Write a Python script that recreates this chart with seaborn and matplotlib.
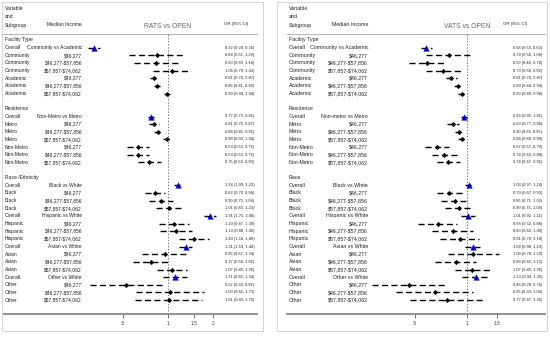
import matplotlib
matplotlib.use("Agg")
import numpy as np
import pandas as pd
import matplotlib.pyplot as plt
import matplotlib.transforms as mtransforms
from matplotlib.patches import Rectangle
import seaborn as sns

# ---- data ----
sections_rats = ["Facility Type", "Residence", "Race /Ethnicity"]
sections_vats = ["Facility Type", "Residence", "Race"]
section_sizes = [7, 7, 16]

subgroup = ["Overall", "Community", "Community", "Community", "Academic", "Academic", "Academic",
            "Overall", "Metro", "Metro", "Metro", "Non-Metro", "Non-Metro", "Non-Metro",
            "Overall", "Black", "Black", "Black",
            "Overall", "Hispanic", "Hispanic", "Hispanic",
            "Overall", "Asian", "Asian", "Asian",
            "Overall", "Other", "Other", "Other"]
income_bands = ["$46,277", "$46,277-$57,856", "$57,857-$74,062"]
comparisons_rats = ["Community vs Academic", "Non-Metro vs Metro", "Black vs White",
                    "Hispanic vs White", "Asian vs White", "Other vs White"]
comparisons_vats = ["Community vs Academic", "Non-metro vs Metro", "Black vs White",
                    "Hispanic vs White", "Asian vs White", "Other vs White"]

rats_or = [0.32, 0.84, 0.83, 1.06, 0.81, 0.85, 0.99,
           0.77, 0.81, 0.86, 0.98, 0.63, 0.63, 0.75,
           1.16, 0.82, 0.90, 1.01, 1.91, 1.10, 1.13, 1.49,
           1.31, 0.95, 0.77, 1.07, 1.11, 0.52, 1.03, 1.01]
rats_lo = [0.29, 0.55, 0.59, 0.79, 0.76, 0.81, 0.94,
           0.73, 0.75, 0.81, 0.93, 0.53, 0.53, 0.63,
           1.09, 0.70, 0.75, 0.83, 1.75, 0.87, 0.88, 1.18,
           1.19, 0.67, 0.58, 0.85, 0.92, 0.30, 0.61, 0.60]
rats_hi = [0.35, 1.29, 1.16, 1.43, 0.87, 0.90, 1.04,
           0.81, 0.87, 0.91, 1.04, 0.75, 0.75, 0.90,
           1.23, 0.96, 1.08, 1.23, 2.08, 1.39, 1.45, 1.88,
           1.44, 1.34, 1.02, 1.35, 1.34, 0.91, 1.73, 1.70]

vats_or = [0.58, 0.79, 0.59, 0.73, 0.81, 0.89, 0.93,
           0.96, 0.83, 0.90, 0.94, 0.67, 0.74, 0.78,
           1.03, 0.79, 0.85, 0.90, 1.01, 0.68, 0.83, 0.91,
           1.08, 1.09, 0.86, 1.07, 1.13, 0.46, 0.65, 0.77]
vats_lo = [0.54, 0.58, 0.46, 0.58, 0.76, 0.84, 0.89,
           0.92, 0.77, 0.85, 0.89, 0.57, 0.63, 0.67,
           0.97, 0.67, 0.71, 0.75, 0.92, 0.52, 0.63, 0.70,
           0.98, 0.78, 0.65, 0.85, 0.94, 0.28, 0.39, 0.47]
vats_hi = [0.63, 1.08, 0.76, 0.92, 0.87, 0.94, 0.98,
           1.01, 0.90, 0.95, 0.99, 0.79, 0.88, 0.91,
           1.10, 0.93, 1.02, 1.08, 1.11, 0.88, 1.09, 1.18,
           1.19, 1.53, 1.13, 1.35, 1.35, 0.76, 1.09, 1.26]

W, H = 550, 338
ROW0, ROWH = 40.0, 7.65   # pixel y of first row, pixel step


def build_rows(sections, comparisons, est, lo, hi):
    heads, recs = [], []
    r, k, c, band = 0, 0, 0, 0
    for name, n in zip(sections, section_sizes):
        heads.append((r, name))
        r += 1
        for _ in range(n):
            if subgroup[k] == "Overall":
                inc = comparisons[c]
                c += 1
            else:
                inc = income_bands[band % 3]
                band += 1
            recs.append(dict(y=r, var=subgroup[k], inc=inc, est=est[k], lo=lo[k], hi=hi[k],
                             overall=subgroup[k] == "Overall"))
            r += 1
            k += 1
        r += 1
    return heads, pd.DataFrame(recs)


def px_axes(fig, x0, x1, y0, y1):
    return fig.add_axes([x0 / W, 1 - y1 / H, (x1 - x0) / W, (y1 - y0) / H])


def yrow(py):
    return (py - ROW0) / ROWH


def draw_panel(ax, title, sections, comparisons, est, lo, hi, xlim, ticks, ticklabels,
               col_var, col_inc, col_or, col_orhead, fs_row):
    heads, df = build_rows(sections, comparisons, est, lo, hi)
    ax.set_xscale("log")
    ax.set_xlim(*xlim)
    ax.set_ylim(yrow(314), yrow(34))
    ax.axvline(1, color="#777777", ls=(0, (1, 1.2)), lw=0.7, zorder=1)
    ax.hlines(df["y"], df["lo"], df["hi"], colors="black", linestyles=(0, (4.4, 2.4)),
              lw=1.0, zorder=2)
    sns.scatterplot(data=df[~df.overall], x="est", y="y", marker="D", s=5, color="black",
                    edgecolor="black", linewidth=0.4, ax=ax, zorder=3)
    sns.scatterplot(data=df[df.overall], x="est", y="y", marker="^", s=16, color="#0000ee",
                    edgecolor="#0000ee", linewidth=0.3, ax=ax, zorder=4)
    ax.set_xlabel("")
    ax.set_ylabel("")
    ax.set_yticks([])
    ax.xaxis.set_major_locator(matplotlib.ticker.FixedLocator(ticks))
    ax.xaxis.set_minor_locator(matplotlib.ticker.NullLocator())
    ax.set_xticklabels(ticklabels)
    ax.tick_params(axis="x", direction="out", length=3, width=0.6, color="#555555",
                   labelsize=3.4, labelcolor="#333333", pad=2, bottom=True)
    for s in ("left", "right"):
        ax.spines[s].set_visible(False)
    ax.spines["top"].set_color("#aaaaaa")
    ax.spines["top"].set_linewidth(0.6)
    ax.spines["bottom"].set_color("#8a8a8a")
    ax.spines["bottom"].set_linewidth(1.3)

    tr = mtransforms.blended_transform_factory(ax.transAxes, ax.transData)
    kw = dict(transform=tr, va="center", fontsize=fs_row, color="#222222",
              parse_math=False, clip_on=False)
    for y, name in heads:
        ax.text(col_var, y, name, ha="left", **kw)
    for _, row in df.iterrows():
        ax.text(col_var, row.y, row["var"], ha="left", **kw)
        ax.text(col_inc, row.y, row.inc, ha="right", **kw)
        ax.text(col_or, row.y, f"{row.est:.2f} ({row.lo:.2f}, {row.hi:.2f})", ha="left",
                **{**kw, "fontsize": 2.9})
    ax.text(col_var, yrow(9), "Variable", ha="left", **kw)
    ax.text(col_var, yrow(17), "and", ha="left", **kw)
    ax.text(col_var, yrow(25), "Subgroup", ha="left", **kw)
    ax.text(col_inc, yrow(25), "Median Income", ha="right", **kw)
    ax.text(col_orhead, yrow(24), "OR (95% CI)", ha="left", **{**kw, "fontsize": 3.1})
    ax.text(1, yrow(27), title, transform=ax.transData, ha="center", va="center",
            fontsize=4.9, color="#666666", clip_on=False)


sns.set_theme(style="white")
plt.rcParams["font.family"] = ["Liberation Sans", "DejaVu Sans"]
plt.rcParams["lines.scale_dashes"] = False

fig = plt.figure(figsize=(W / 100, H / 100), dpi=100)
fig.patch.set_facecolor("white")

for x0, x1 in [(2, 263), (277, 547)]:
    fig.patches.append(Rectangle((x0 / W, 1 - 331 / H), (x1 - x0) / W, 329 / H,
                                 transform=fig.transFigure, fill=False,
                                 ec="#d4d4d4", lw=0.7))

ax1 = px_axes(fig, 3, 257, 34, 314)
draw_panel(ax1, "RATS vs OPEN", sections_rats, comparisons_rats, rats_or, rats_lo, rats_hi,
           xlim=(2 ** ((3 - 168) / 45), 2 ** ((257 - 168) / 45)),
           ticks=[0.5, 1, 1.5, 2], ticklabels=[".5", "1", "1.5", "2"],
           col_var=2 / 254, col_inc=79 / 254, col_or=222 / 254, col_orhead=221 / 254,
           fs_row=3.6)

ax2 = px_axes(fig, 287, 545, 34, 314)
draw_panel(ax2, "VATS vs OPEN", sections_vats, comparisons_vats, vats_or, vats_lo, vats_hi,
           xlim=(2 ** ((287 - 467) / 52), 2 ** ((545 - 467) / 52)),
           ticks=[0.5, 1, 1.5], ticklabels=[".5", "1", "1.5"],
           col_var=2 / 258, col_inc=81 / 258, col_or=226 / 258, col_orhead=216 / 258,
           fs_row=3.8)

fig.savefig("out.png", dpi=100)
